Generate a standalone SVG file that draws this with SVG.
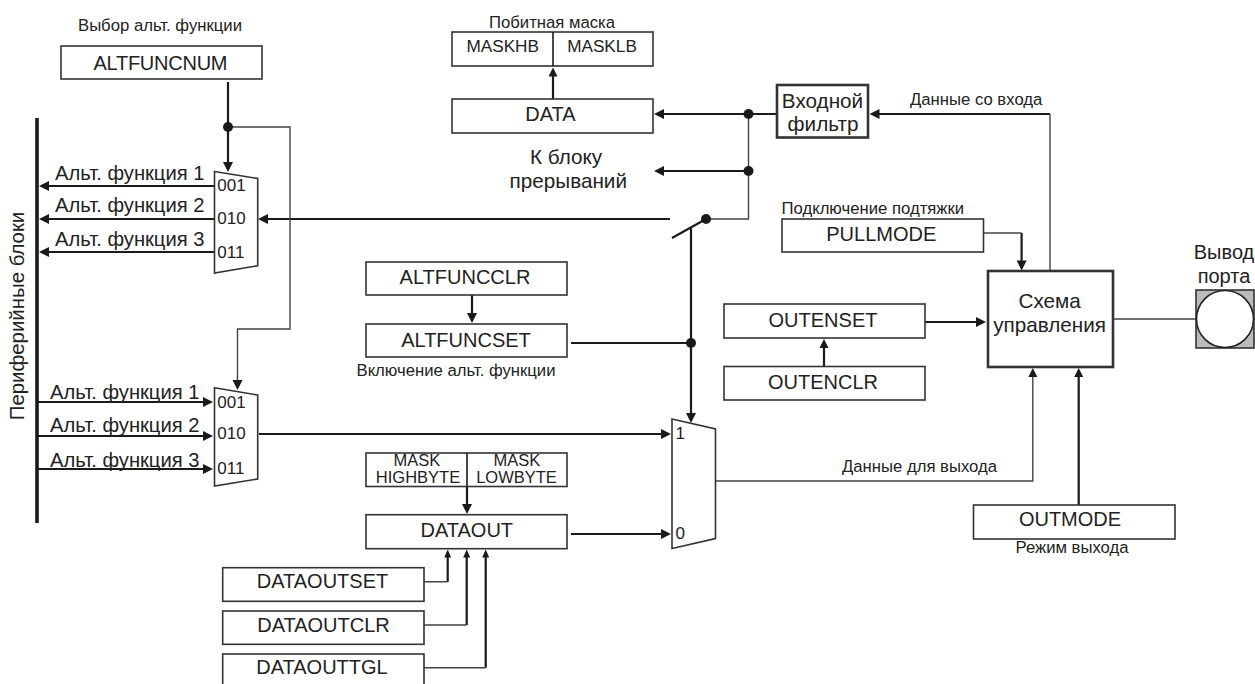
<svg xmlns="http://www.w3.org/2000/svg" width="1255" height="684" viewBox="0 0 1255 684">
<style>
text{font-family:"Liberation Sans",Arial,sans-serif;fill:#222}
.b{fill:#fff;stroke:#333;stroke-width:1.6}
.B{fill:#fff;stroke:#333;stroke-width:2.6}
.t{font-size:20px;text-anchor:middle}
.m{font-size:17.2px;text-anchor:middle}
.h{font-size:16.5px;text-anchor:middle}
.l{font-size:20.2px}
.s{font-size:16.7px}
.g{font-size:17px}
.c{fill:none;stroke:#1a1a1a;stroke-width:2.2}
.n{fill:none;stroke:#444;stroke-width:1.4}
.a{fill:#1a1a1a;stroke:none}
</style>
<defs>
<path id="r" class="a" d="M0 0L-10 -5V5Z"/>
<path id="l" class="a" d="M0 0L10 -5V5Z"/>
<path id="d" class="a" d="M0 0L-5 -10H5Z"/>
<path id="u" class="a" d="M0 0L-4.5 9H4.5Z"/>
<path id="us" class="a" d="M0 0L-3.5 8H3.5Z"/>
</defs>
<rect width="1255" height="684" fill="#fff"/>
<g id="connectors">
<path class="c" d="M228 82V165M214 186H45M214 219H45M214 252H45M38 402H205M38 436H205M38 469H205M670 219H266M259 434H663M553 99V74M777 114H662M748 171H662M472 295V315M571 343H691M691 228V414M467 453V506M571 534H663M824 366V346M925 322H978M1021.6 233V262M1078.7 505V376M1050 114H878M672 238L706 219"/>
<path class="n" d="M228 127H290V329H237.5V380M706 219H748.5V114M1050 271V114M715 481H1032.8V375M1113 319H1196M984 233H1021.6"/>
<path class="c" d="M37 118V523" style="stroke-width:3.6"/>
<path class="c" d="M447.7 581.7V555M466.7 625V555M485.7 667.7V555"/>
<path class="n" style="stroke-width:1.6" d="M424 581.7H447.7M424 625H466.7M424 667.7H485.7"/>
<use href="#l" x="39" y="186"/><use href="#l" x="39" y="219"/><use href="#l" x="39" y="252"/>
<use href="#r" x="213" y="402"/><use href="#r" x="213" y="436"/><use href="#r" x="213" y="469"/>
<use href="#d" x="228" y="172"/><use href="#d" x="237.5" y="390"/>
<use href="#l" x="258" y="219"/>
<use href="#r" x="671" y="434"/><use href="#r" x="671" y="534"/>
<use href="#d" x="691" y="423"/><use href="#d" x="467" y="514"/>
<use href="#l" x="654" y="114"/><use href="#l" x="654" y="171"/>
<use href="#u" x="553" y="67.5"/>
<use href="#d" x="472" y="323"/>
<use href="#l" x="869.5" y="114"/>
<use href="#d" x="1021.6" y="270.5"/><use href="#r" x="986" y="322"/>
<use href="#u" x="824" y="339"/>
<use href="#u" x="1032.8" y="368"/><use href="#u" x="1078.7" y="368"/>
<use href="#us" x="447.7" y="549.5"/><use href="#us" x="466.7" y="549.5"/><use href="#us" x="485.7" y="549.5"/>
<g fill="#1a1a1a"><circle cx="228" cy="127" r="5"/><circle cx="748.5" cy="114" r="5"/><circle cx="748.5" cy="171" r="5"/><circle cx="706" cy="219" r="5"/><circle cx="691" cy="343" r="5"/></g>
</g>
<g id="altfuncnum"><rect class="b" x="61" y="46" width="201" height="33"/><text class="t" x="160.5" y="70" textLength="134">ALTFUNCNUM</text></g>
<g id="mux1"><path class="b" d="M214.5 171.5L257.7 178.5V265.7L214.5 273Z"/><text class="g" x="217.3" y="191">001</text><text class="g" x="217.3" y="224.3">010</text><text class="g" x="217.3" y="258">011</text></g>
<g id="mux2"><path class="b" d="M214.5 387.7L257.7 395V479L214.5 486Z"/><text class="g" x="217.3" y="407.7">001</text><text class="g" x="217.3" y="439">010</text><text class="g" x="217.3" y="474">011</text></g>
<g id="mux3"><path class="b" d="M672 419L715.5 429V538.5L672 548.5Z"/><text class="g" x="675.5" y="438.5">1</text><text class="g" x="675.5" y="538.5">0</text></g>
<g id="mask"><rect class="b" x="452" y="32" width="201" height="34"/><path class="c" d="M553 32V66" style="stroke-width:1.6"/><text class="m" x="502.7" y="52">MASKHB</text><text class="m" x="602" y="52">MASKLB</text></g>
<g id="data"><rect class="b" x="452" y="99" width="201" height="34"/><text class="t" x="550.5" y="121">DATA</text></g>
<g id="filter"><rect class="B" x="777" y="85" width="91" height="52.5"/><text class="t" x="822.5" y="107.7" style="font-size:20.7px">Входной</text><text class="t" x="823" y="131" style="font-size:20.7px">фильтр</text></g>
<g id="pullmode"><rect class="b" x="782" y="219" width="201.5" height="33"/><text class="t" x="881.3" y="241">PULLMODE</text></g>
<g id="control"><rect class="B" x="988" y="271" width="125" height="96"/><text class="t" x="1049.6" y="308" style="font-size:20.7px">Схема</text><text class="t" x="1049.6" y="332" style="font-size:20.7px">управления</text></g>
<g id="altfuncclr"><rect class="b" x="366" y="262" width="201" height="33"/><text class="t" x="465" y="284.3">ALTFUNCCLR</text></g>
<g id="altfuncset"><rect class="b" x="366" y="324" width="201" height="33"/><text class="t" x="466" y="347.3">ALTFUNCSET</text></g>
<g id="outenset"><rect class="b" x="724" y="304" width="201" height="34"/><text class="t" x="823" y="326.7">OUTENSET</text></g>
<g id="outenclr"><rect class="b" x="724" y="366.5" width="201" height="33.5"/><text class="t" x="823" y="388.5">OUTENCLR</text></g>
<g id="outmode"><rect class="b" x="973.5" y="505" width="201.5" height="34"/><text class="t" x="1070" y="525.7">OUTMODE</text></g>
<g id="maskout"><rect class="b" x="366" y="453" width="201" height="33.5"/><path class="c" d="M467 453V486" style="stroke-width:1.6"/><text class="h" x="417" y="466">MASK</text><text class="h" x="418" y="483">HIGHBYTE</text><text class="h" x="517" y="466">MASK</text><text class="h" x="516.5" y="483">LOWBYTE</text></g>
<g id="dataout"><rect class="b" x="366" y="514.7" width="201" height="34"/><text class="t" x="466.8" y="536.7">DATAOUT</text></g>
<g id="dataoutset"><rect class="b" x="222.7" y="567.7" width="201.3" height="33.6"/><text class="t" x="322.5" y="588.3">DATAOUTSET</text></g>
<g id="dataoutclr"><rect class="b" x="222.7" y="611" width="201.3" height="33.3"/><text class="t" x="323.5" y="632.3">DATAOUTCLR</text></g>
<g id="dataouttgl"><rect class="b" x="222.7" y="654" width="201.3" height="34"/><text class="t" x="322" y="674.3">DATAOUTTGL</text></g>
<g id="pin"><rect x="1196" y="290" width="58" height="58" fill="#bbb" stroke="#333" stroke-width="1.6"/><circle cx="1225" cy="319" r="28.5" fill="#fff" stroke="#222" stroke-width="1.6"/></g>
<g id="labels">
<text class="s" x="78" y="31">Выбор альт. функции</text>
<text class="s" x="489" y="27.7">Побитная маска</text>
<text class="t" x="566" y="164" style="font-size:20.7px">К блоку</text><text class="t" x="568.3" y="188" style="font-size:20.7px">прерываний</text>
<text class="s" x="910" y="105">Данные со входа</text>
<text class="s" x="781.5" y="214">Подключение подтяжки</text>
<text class="s" x="356.5" y="375.7">Включение альт. функции</text>
<text class="s" x="842" y="472">Данные для выхода</text>
<text class="s" x="1015.5" y="552.6">Режим выхода</text>
<text class="t" x="1224" y="259">Вывод</text><text class="t" x="1224" y="282.7">порта</text>
<text class="l" x="55" y="180">Альт. функция 1</text><text class="l" x="55" y="212.3">Альт. функция 2</text><text class="l" x="55" y="246">Альт. функция 3</text>
<text class="l" x="50" y="399">Альт. функция 1</text><text class="l" x="50" y="432">Альт. функция 2</text><text class="l" x="50" y="467.3">Альт. функция 3</text>
<text class="t" transform="translate(24,316) rotate(-90)" style="font-size:20.4px">Периферийные блоки</text>
</g>
</svg>
